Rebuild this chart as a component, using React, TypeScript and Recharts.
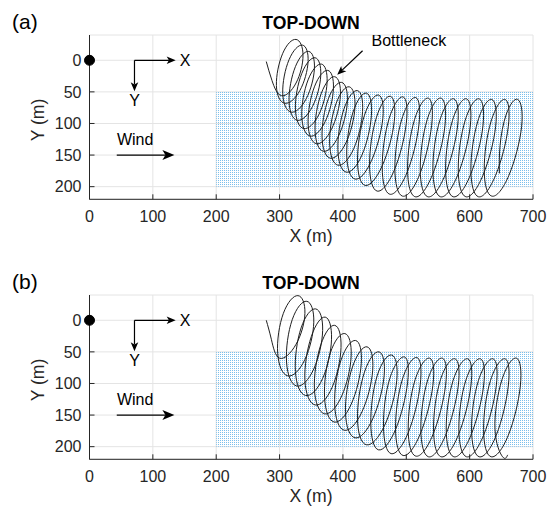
import React from 'react'
import {
  ComposedChart,
  Line,
  Scatter,
  XAxis,
  YAxis,
  CartesianGrid,
  ReferenceArea,
  ReferenceDot,
  ReferenceLine
} from 'recharts'

const FONT = "'Liberation Sans', Arial, Helvetica, sans-serif"
const INK = '#262626'

const xTicks = [0, 100, 200, 300, 400, 500, 600, 700]
const yTicks = [0, 50, 100, 150, 200]

// wind field footprint (m)
const windX: [number, number] = [200, 700]
const windY: [number, number] = [50, 200]

// looping trajectory, panel (a) (x, y in m)
// one row per turn: down the left side, bottom, up the right side, top
const pathA: [number, number][] = [
  [279, 2], [288, 32], [303, 56], [326, 36], [337, -8], [326, -33],
  [305, -11], [295, 40], [308, 68], [332, 48], [345, 2], [336, -24],
  [315, -1], [305, 52], [318, 82], [342, 61], [355, 13], [346, -14],
  [325, 10], [315, 65], [328, 95], [352, 73], [365, 24], [356, -4],
  [335, 21], [325, 77], [338, 108], [362, 86], [375, 35], [366, 6],
  [345, 31], [335, 88], [348, 120], [372, 97], [385, 45], [376, 16],
  [355, 42], [345, 100], [358, 132], [382, 109], [396, 56], [387, 26],
  [366, 52], [356, 111], [369, 144], [393, 120], [407, 66], [398, 35],
  [377, 61], [367, 121], [380, 155], [405, 130], [419, 74], [410, 42],
  [389, 69], [379, 131], [392, 166], [417, 140], [431, 81], [423, 48],
  [402, 76], [392, 141], [405, 177], [430, 150], [445, 87], [437, 52],
  [416, 82], [406, 150], [419, 188], [445, 159], [463, 92], [456, 55],
  [434, 87], [423, 158], [435, 198], [462, 167], [481, 97], [475, 57],
  [453, 90], [442, 165], [454, 207], [481, 174], [500, 100], [495, 58],
  [473, 92], [462, 169], [474, 212], [501, 178], [520, 102], [515, 59],
  [493, 93], [482, 171], [494, 215], [521, 181], [540, 103], [535, 60],
  [513, 94], [502, 172], [514, 216], [541, 182], [561, 104], [555, 60],
  [533, 94], [522, 172], [534, 216], [561, 182], [581, 104], [575, 61],
  [553, 95], [542, 172], [554, 216], [581, 182], [601, 104], [595, 61],
  [573, 95], [562, 172], [574, 216], [601, 182], [621, 104], [615, 61],
  [593, 95], [582, 172], [594, 216], [621, 182], [641, 105], [635, 62],
  [613, 96], [602, 173], [614, 216], [641, 182], [661, 105], [656, 62],
  [634, 96], [623, 173], [635, 215], [662, 182], [682, 105], [676, 62],
  [658, 85], [648, 135], [647, 179]
]

// looping trajectory, panel (b)
const pathB: [number, number][] = [
  [279, 0], [287, 30], [300, 60], [326, 38], [340, -11], [329, -39],
  [306, -11], [297, 52], [313, 88], [340, 62], [354, 3], [343, -30],
  [320, -1], [311, 66], [327, 104], [354, 77], [368, 16], [357, -18],
  [334, 12], [325, 81], [341, 119], [368, 92], [382, 30], [372, -5],
  [350, 26], [340, 95], [356, 134], [383, 106], [397, 43], [387, 8],
  [365, 39], [355, 109], [371, 148], [398, 120], [413, 57], [403, 21],
  [380, 52], [371, 122], [386, 161], [413, 133], [429, 68], [420, 32],
  [397, 63], [387, 134], [402, 174], [430, 145], [447, 79], [438, 42],
  [415, 74], [404, 146], [419, 186], [447, 156], [465, 88], [457, 50],
  [434, 82], [423, 156], [437, 197], [466, 166], [485, 95], [477, 55],
  [454, 88], [444, 163], [456, 205], [483, 173], [502, 99], [497, 58],
  [474, 92], [464, 168], [476, 211], [503, 178], [522, 102], [517, 59],
  [494, 93], [483, 171], [495, 214], [522, 180], [542, 103], [537, 60],
  [514, 94], [503, 172], [515, 215], [542, 181], [562, 103], [557, 60],
  [534, 94], [523, 172], [535, 216], [562, 182], [582, 104], [577, 61],
  [554, 94], [543, 172], [555, 216], [582, 182], [602, 104], [597, 61],
  [574, 95], [563, 172], [575, 216], [602, 182], [622, 104], [617, 61],
  [594, 95], [583, 172], [595, 216], [622, 182], [642, 104], [637, 61],
  [614, 95], [603, 172], [615, 216], [642, 182], [661, 104], [656, 61],
  [633, 95], [622, 173], [634, 216], [661, 182], [680, 104], [674, 60],
  [651, 94], [640, 172], [652, 216], [660, 213]
]

type Note = { x: number; y: number; text: string }
type Arrow = { x1: number; y1: number; x2: number; y2: number; head: number }

const notesCommon: Note[] = [
  { x: 151, y: 0, text: 'X' },
  { x: 71, y: 64, text: 'Y' },
  { x: 72, y: 125, text: 'Wind' }
]
const notesA: Note[] = [...notesCommon, { x: 504, y: -31, text: 'Bottleneck' }]
const notesB: Note[] = notesCommon

const arrowsCommon: Arrow[] = [
  { x1: 71, y1: 0, x2: 136, y2: 0, head: 9 },
  { x1: 71, y1: 0, x2: 71, y2: 49, head: 9 },
  { x1: 43, y1: 150, x2: 134, y2: 150, head: 12 }
]
const arrowsA: Arrow[] = [...arrowsCommon, { x1: 431, y1: -15, x2: 391, y2: 23, head: 9 }]
const arrowsB: Arrow[] = arrowsCommon

const arrowShape = (head: number) => (p: any) => {
  const { x1, y1, x2, y2 } = p
  const a = Math.atan2(y2 - y1, x2 - x1)
  const c = Math.cos(a)
  const s = Math.sin(a)
  const w = head * 0.42
  const bx = x2 - head * c
  const by = y2 - head * s
  const nx = x2 - head * 0.75 * c
  const ny = y2 - head * 0.75 * s
  const pts = [
    [x2, y2],
    [bx - w * s, by + w * c],
    [nx, ny],
    [bx + w * s, by - w * c]
  ]
    .map((q) => q.join(','))
    .join(' ')
  return (
    <g>
      <line x1={x1} y1={y1} x2={nx} y2={ny} stroke="#000" strokeWidth={1.2} />
      <polygon points={pts} fill="#000" />
    </g>
  )
}

const noteShape = (p: any) => (
  <text
    x={p.cx}
    y={p.cy}
    textAnchor="middle"
    dominantBaseline="central"
    fontFamily={FONT}
    fontSize={16}
    fill="#000"
  >
    {p.payload.text}
  </text>
)

type PanelProps = {
  top: number
  letter: string
  path: [number, number][]
  notes: Note[]
  arrows: Arrow[]
  id: string
}

function Panel({ top, letter, path, notes, arrows, id }: PanelProps) {
  const lineData = path.map(([x, y]) => ({ x, y }))
  return (
    <div style={{ position: 'absolute', left: 0, top, width: 547, height: 260 }}>
      <ComposedChart width={547} height={260} margin={{ top: 35, right: 14, bottom: 0, left: 0 }}>
        <defs>
          <pattern id={id} width={2} height={2} patternUnits="userSpaceOnUse">
            <rect width={1} height={1} fill="#7cbfec" />
          </pattern>
        </defs>
        <CartesianGrid stroke="#e4e4e4" />
        <XAxis
          type="number"
          dataKey="x"
          domain={[0, 700]}
          ticks={xTicks}
          allowDataOverflow
          height={60.7}
          tickSize={-5}
          tickMargin={16}
          axisLine={{ stroke: INK }}
          tickLine={{ stroke: INK }}
          tick={{ fill: INK, fontSize: 16, fontFamily: FONT }}
        />
        <YAxis
          type="number"
          dataKey="y"
          domain={[-40, 220]}
          ticks={yTicks}
          reversed
          allowDataOverflow
          width={89.5}
          tickSize={-5}
          tickMargin={13}
          axisLine={{ stroke: INK }}
          tickLine={{ stroke: INK }}
          tick={{ fill: INK, fontSize: 16, fontFamily: FONT }}
        />
        <ReferenceArea
          x1={windX[0]}
          x2={windX[1]}
          y1={windY[0]}
          y2={windY[1]}
          fill={`url(#${id})`}
          fillOpacity={1}
          stroke="none"
        />
        <Line
          data={lineData}
          dataKey="y"
          type="natural"
          dot={false}
          activeDot={false}
          stroke="#1f1f1f"
          strokeWidth={1}
          isAnimationActive={false}
        />
        {arrows.map((a, i) => (
          <ReferenceLine
            key={i}
            segment={[
              { x: a.x1, y: a.y1 },
              { x: a.x2, y: a.y2 }
            ]}
            ifOverflow="visible"
            shape={arrowShape(a.head)}
          />
        ))}
        <Scatter data={notes} shape={noteShape} isAnimationActive={false} />
        <ReferenceDot x={0} y={0} r={5} fill="#000" stroke="#000" ifOverflow="visible" />
      </ComposedChart>
      <svg
        width={547}
        height={260}
        style={{ position: 'absolute', left: 0, top: 0, pointerEvents: 'none' }}
        fontFamily={FONT}
      >
        <text x={12} y={29} fontSize={21} fill="#000">
          {letter}
        </text>
        <text x={311} y={29} fontSize={17.6} fontWeight="bold" textAnchor="middle" fill="#000">
          TOP-DOWN
        </text>
        <text x={311} y={242} fontSize={17.6} textAnchor="middle" fill={INK}>
          X (m)
        </text>
        <text
          transform="translate(44,120) rotate(-90)"
          fontSize={17.6}
          textAnchor="middle"
          fill={INK}
        >
          Y (m)
        </text>
      </svg>
    </div>
  )
}

export default function App() {
  return (
    <div
      style={{
        position: 'absolute',
        left: 0,
        top: 0,
        width: 547,
        height: 511,
        overflow: 'hidden',
        background: '#fff'
      }}
    >
      <Panel top={0} letter="(a)" path={pathA} notes={notesA} arrows={arrowsA} id="windA" />
      <Panel top={260} letter="(b)" path={pathB} notes={notesB} arrows={arrowsB} id="windB" />
    </div>
  )
}
